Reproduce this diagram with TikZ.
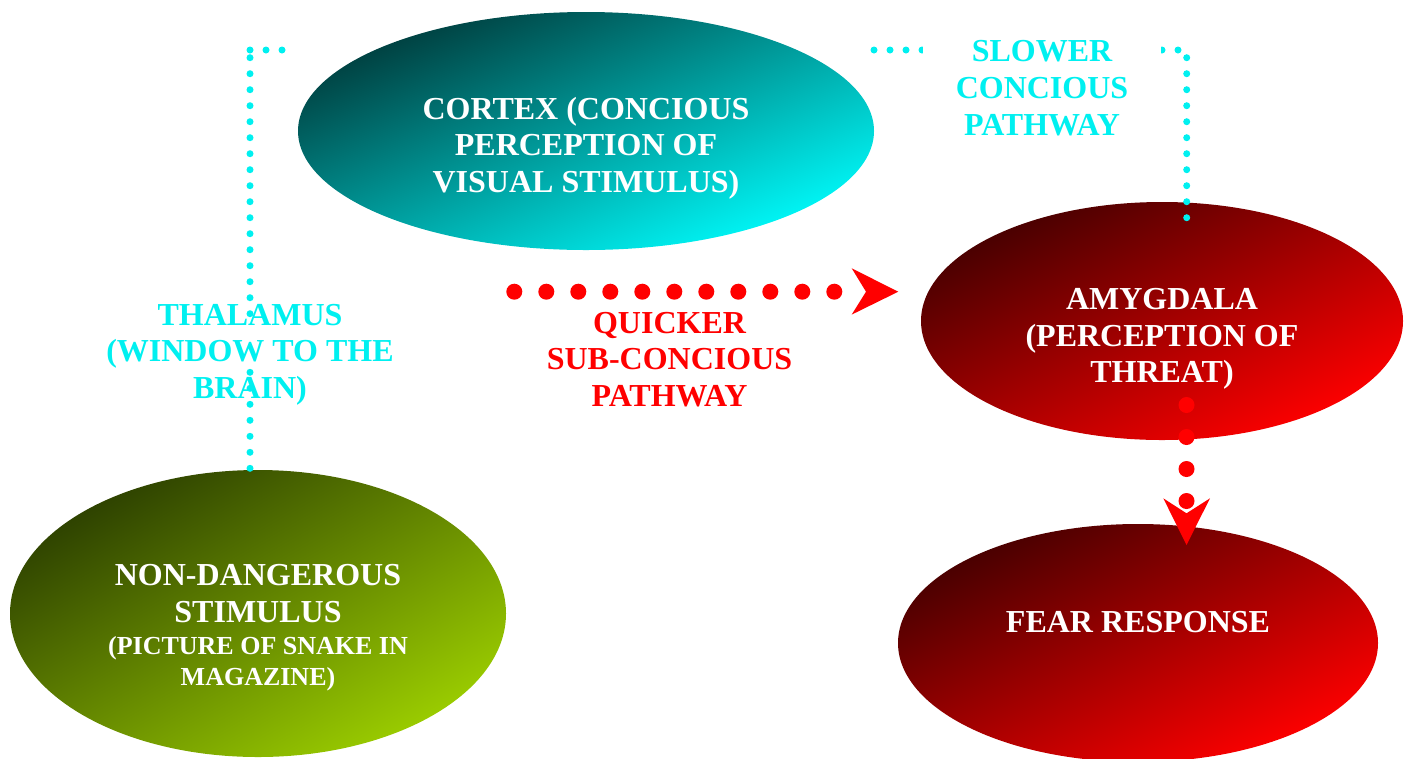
\documentclass[tikz,border=0pt]{standalone}
\usepackage{fontspec}
\setmainfont{Liberation Serif}
\usetikzlibrary{shapes.geometric}
\definecolor{tcyan}{RGB}{0,240,240}
\definecolor{cyandark}{RGB}{0,60,60}
\definecolor{cyanlight}{RGB}{0,250,250}
\definecolor{reddark}{RGB}{70,0,0}
\definecolor{redlight}{RGB}{255,0,0}
\definecolor{greendark}{RGB}{45,65,0}
\definecolor{greenlight}{RGB}{155,205,0}
\begin{document}
\begin{tikzpicture}[x=0.75pt,y=-0.75pt,
  blob/.style={ellipse, draw=none, inner sep=0pt},
  cyanblob/.style={blob, top color=cyandark, bottom color=cyanlight, shading angle=#1},
  redblob/.style={blob, top color=reddark, bottom color=redlight, shading angle=#1},
  greenblob/.style={blob, top color=greendark, bottom color=greenlight, shading angle=#1},
  lbl/.style={align=center, font=\fontsize{24pt}{27.5pt}\selectfont\bfseries, inner sep=0pt},
  smalllbl/.style={align=center, font=\fontsize{19.5pt}{23.25pt}\selectfont\bfseries, inner sep=0pt},
  cdots/.style={draw=tcyan, line width=5.25pt, line cap=round, dash pattern=on 0pt off 12pt},
  rdots/.style={draw=red, line width=12pt, line cap=round, dash pattern=on 0pt off 24pt},
  rhead/.style={fill=red, draw=none}
]
\useasboundingbox (0,0) rectangle (1410,758);

% ellipses
\node[cyanblob=22.5, minimum width=432pt, minimum height=178.5pt] (cortex) at (586,131) {};
\node[redblob=26.5, minimum width=361.5pt, minimum height=178.5pt] (amyg) at (1162,321) {};
\node[redblob=26.5, minimum width=360pt, minimum height=178.5pt] (fear) at (1138,643) {};
\node[greenblob=30, minimum width=372pt, minimum height=215.25pt] (stim) at (258,613.5) {};

% cyan dotted pathways
\coordinate (thalbot) at (250,468.3);
\coordinate (thallow) at (250,372);
\coordinate (thalhigh) at (250,313.7);
\coordinate (thaltop) at (250,57.5);
\coordinate (lcorner) at (250,50);
\coordinate (lend) at (282.4,50);
\coordinate (rstart) at (874,50);
\coordinate (rend) at (1178.4,50);
\coordinate (rvtop) at (1186.7,57.7);
\coordinate (rvbot) at (1186.7,218);
\draw[cdots] (thalbot) -- (thallow);
\draw[cdots] (thalhigh) -- (thaltop);
\draw[cdots] (lcorner) -- (lend);
\draw[cdots] (rstart) -- (rend);
\draw[cdots] (rvtop) -- (rvbot);

% labels
\node[lbl, text=tcyan, fill=white, minimum width=178.5pt, minimum height=80pt] (slower) at (1042,88) {SLOWER\\CONCIOUS\\PATHWAY};
\node[lbl, text=tcyan] (thal) at (250,354.5) {THALAMUS\\(WINDOW TO THE\\BRAIN)};
\node[lbl, text=red] (quick) at (669.5,359.5) {QUICKER\\SUB-CONCIOUS\\PATHWAY};
\node[lbl, text=white] (cortext) at (586,148) {CORTEX (CONCIOUS\\PERCEPTION OF\\VISUAL STIMULUS)};
\node[lbl, text=white] (amygtext) at (1162,339) {AMYGDALA\\(PERCEPTION OF\\THREAT)};
\node[lbl, text=white] (feartext) at (1138,622.5) {FEAR RESPONSE};
\node[lbl, text=white] (stimtext) at (258,593.5) {NON-DANGEROUS\\STIMULUS};
\node[smalllbl, text=white] (stimsub) at (258,663.5) {(PICTURE OF SNAKE IN\\MAGAZINE)};

% quicker red arrow
\coordinate (qa) at (514.3,291.7);
\coordinate (qb) at (834.6,291.7);
\coordinate (qh1) at (851.7,268.3);
\coordinate (qtip) at (898.3,291.7);
\coordinate (qh2) at (851.7,314.6);
\coordinate (qn) at (866,291.7);
\draw[rdots] (qa) -- (qb);
\fill[rhead] (qh1) -- (qtip) -- (qh2) -- (qn) -- cycle;

% amygdala -> fear arrow
\coordinate (da) at (1186.5,405);
\coordinate (db) at (1186.5,501.3);
\coordinate (dh1) at (1163.3,498.3);
\coordinate (dn) at (1186.5,513.3);
\coordinate (dh2) at (1210,498.3);
\coordinate (dtip) at (1186.5,545);
\draw[rdots] (da) -- (db);
\fill[rhead] (dh1) -- (dn) -- (dh2) -- (dtip) -- cycle;
\end{tikzpicture}
\end{document}
